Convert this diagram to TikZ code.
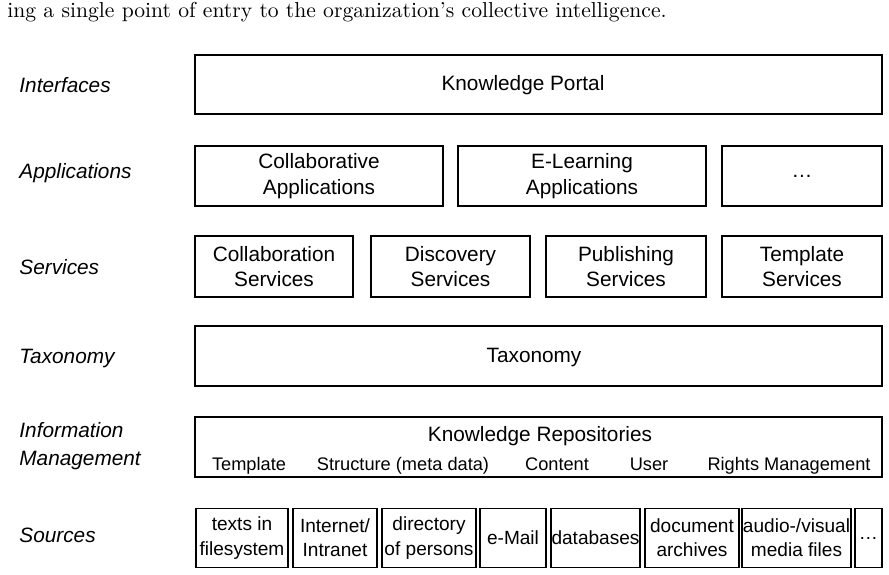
\documentclass[tikz,border=0pt]{standalone}
\usepackage{fontspec}
\setsansfont{Liberation Sans}
\newcommand\Bx[6]{\node[box, minimum width={(#4-#2)*0.4667pt}, minimum height={(#5-#3)*0.4667pt}] (#1) at ({(#2+#4)/2},{(#3+#5)/2}) {#6};}
\begin{document}
\begin{tikzpicture}[x=0.4667pt,y=-0.4667pt,
  box/.style={draw, line width=0.7pt, inner sep=0pt, align=center, font=\sffamily\fontsize{9.7}{12}\selectfont},
  srcbox/.style={box, minimum height=59*0.4667pt, font=\sffamily\fontsize{8.9}{11.3}\selectfont},
  lab/.style={anchor=base west, inner sep=0pt, font=\sffamily\itshape\fontsize{9.7}{12}\selectfont},
  txt/.style={anchor=base, inner sep=0pt, font=\sffamily\fontsize{9.7}{12}\selectfont},
  subtxt/.style={anchor=base, inner sep=0pt, font=\sffamily\fontsize{8.5}{12}\selectfont}]
\useasboundingbox (0,0) rectangle (889,574);
% intro line
\node[anchor=base west, inner sep=0pt, font=\rmfamily\fontsize{10.1}{12}\selectfont] (intro) at (7,17) {ing a single point of entry to the organization's collective intelligence.};
% layer labels
\node[lab] (lint) at (19,92) {Interfaces};
\node[lab] (lapp) at (19,178) {Applications};
\node[lab] (lsrv) at (19,274) {Services};
\node[lab] (ltax) at (19,363) {Taxonomy};
\node[lab] (linf) at (19,437) {Information};
\node[lab] (lmgt) at (19,465) {Management};
\node[lab] (lsrc) at (19,542) {Sources};
% interfaces
\Bx{portal}{195}{55}{882}{114}{}
\node[txt] (portalt) at (523,90) {Knowledge Portal};
% applications
\Bx{collapp}{195}{146}{443}{206}{Collaborative\\Applications}
\Bx{elearn}{458}{146}{706}{206}{E-Learning\\Applications}
\Bx{moreapp}{722}{146}{882}{206}{\dots}
% services
\Bx{collsrv}{195}{236}{353}{297}{Collaboration\\Services}
\Bx{discsrv}{371}{236}{530}{297}{Discovery\\Services}
\Bx{pubsrv}{546}{236}{706}{297}{Publishing\\Services}
\Bx{tplsrv}{722}{236}{882}{297}{Template\\Services}
% taxonomy
\Bx{tax}{195}{326}{882}{386}{}
\node[txt] (taxt) at (534,362) {Taxonomy};
% information management
\Bx{repo}{195}{417}{882}{477}{}
\node[txt] (repot) at (540,441) {Knowledge Repositories};
\node[subtxt] (rtpl) at (249,470) {Template};
\node[subtxt] (rstr) at (403,470) {Structure (meta data)};
\node[subtxt] (rcon) at (557,470) {Content};
\node[subtxt] (rusr) at (649,470) {User};
\node[subtxt] (rrgt) at (789,470) {Rights Management};
% sources
\node[srcbox, minimum width=92*0.4667pt] (s1) at (242,538) {texts in\\filesystem};
\node[srcbox, minimum width=84*0.4667pt] (s2) at (335,538) {Internet/\\Intranet};
\node[srcbox, minimum width=94*0.4667pt] (s3) at (429,538) {directory\\of persons};
\node[srcbox, minimum width=66*0.4667pt] (s4) at (513,538) {e-Mail};
\node[srcbox, minimum width=89*0.4667pt] (s5) at (595.5,538) {databases};
\node[srcbox, minimum width=94*0.4667pt] (s6) at (692,538) {document\\archives};
\node[srcbox, minimum width=109*0.4667pt] (s7) at (796.5,538) {audio-/visual\\media files};
\node[srcbox, minimum width=27*0.4667pt] (s8) at (868.5,538) {\dots};
\end{tikzpicture}
\end{document}
